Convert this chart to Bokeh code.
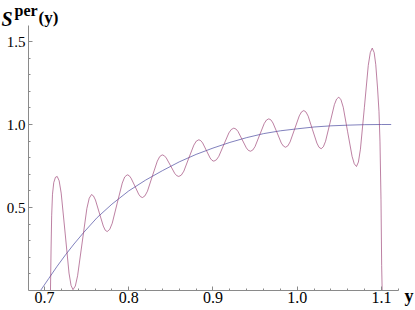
from bokeh.plotting import figure
from bokeh.models import FixedTicker, PrintfTickFormatter, Label, Range1d
from bokeh.embed import file_html
from bokeh.resources import INLINE

# ---- data ----
x_ticks = [0.7, 0.8, 0.9, 1.0, 1.1]
x_minor = [0.70, 0.72, 0.74, 0.76, 0.78, 0.80, 0.82, 0.84, 0.86, 0.88, 0.90,
           0.92, 0.94, 0.96, 0.98, 1.00, 1.02, 1.04, 1.06, 1.08, 1.10, 1.12]
y_ticks = [0.5, 1.0, 1.5]
y_minor = [0.1, 0.2, 0.3, 0.4, 0.5, 0.6, 0.7, 0.8, 0.9, 1.0, 1.1, 1.2, 1.3, 1.4, 1.5]

# smooth (blue) curve
blue_x = [0.6953, 0.7050, 0.7150, 0.7250, 0.7350, 0.7466, 0.7626, 0.7800, 0.8000,
          0.8200, 0.8400, 0.8600, 0.8800, 0.9000, 0.9200, 0.9400, 0.9600, 0.9800,
          1.0000, 1.0200, 1.0400, 1.0600, 1.0800, 1.1000, 1.1115]
blue_y = [0.000, 0.072, 0.146, 0.215, 0.280, 0.350, 0.440, 0.520, 0.600,
          0.665, 0.722, 0.775, 0.820, 0.858, 0.892, 0.921, 0.945, 0.962,
          0.974, 0.985, 0.992, 0.996, 0.999, 1.000, 1.000]

# oscillating (red) curve S^per(y)
red_x = [0.7071, 0.7078, 0.7085, 0.7095, 0.7110, 0.7130, 0.7151,
         0.7174, 0.7198, 0.7245, 0.7291, 0.7315, 0.7338,
         0.7366, 0.7393, 0.7448, 0.7503, 0.7531, 0.7558,
         0.7581, 0.7605, 0.7651, 0.7698, 0.7721, 0.7744,
         0.7774, 0.7804, 0.7863, 0.7923, 0.7952, 0.7982,
         0.8005, 0.8027, 0.8073, 0.8118, 0.8140, 0.8163,
         0.8192, 0.8222, 0.8280, 0.8339, 0.8368, 0.8397,
         0.8422, 0.8446, 0.8496, 0.8545, 0.8569, 0.8594,
         0.8624, 0.8654, 0.8713, 0.8773, 0.8802, 0.8832,
         0.8854, 0.8877, 0.8921, 0.8966, 0.8988, 0.9010,
         0.9040, 0.9069, 0.9129, 0.9188, 0.9217, 0.9247,
         0.9272, 0.9297, 0.9346, 0.9396, 0.9420, 0.9445,
         0.9472, 0.9499, 0.9554, 0.9608, 0.9635, 0.9662,
         0.9687, 0.9712, 0.9762, 0.9811, 0.9836, 0.9861,
         0.9888, 0.9915, 0.9970, 1.0024, 1.0051, 1.0078,
         1.0104, 1.0130, 1.0181, 1.0233, 1.0258, 1.0284,
         1.0310, 1.0336, 1.0389, 1.0441, 1.0467, 1.0493,
         1.0519, 1.0546, 1.0598, 1.0651, 1.0677, 1.0703,
         1.0726, 1.0750, 1.0797, 1.0843, 1.0867, 1.0890,
         1.0913, 1.0932, 1.0953, 1.0970, 1.0982, 1.0994, 1.1002, 1.1008]
red_y = [0.000, 0.250, 0.450, 0.580, 0.650, 0.682, 0.687,
         0.661, 0.587, 0.346, 0.105, 0.031, 0.005,
         0.027, 0.089, 0.292, 0.494, 0.556, 0.578,
         0.570, 0.545, 0.467, 0.388, 0.363, 0.355,
         0.368, 0.405, 0.526, 0.647, 0.684, 0.697,
         0.692, 0.677, 0.629, 0.580, 0.565, 0.560,
         0.570, 0.598, 0.689, 0.779, 0.807, 0.817,
         0.812, 0.798, 0.752, 0.706, 0.692, 0.687,
         0.695, 0.719, 0.798, 0.876, 0.900, 0.908,
         0.903, 0.889, 0.844, 0.798, 0.784, 0.779,
         0.787, 0.808, 0.879, 0.949, 0.970, 0.978,
         0.973, 0.958, 0.909, 0.859, 0.844, 0.839,
         0.846, 0.867, 0.937, 1.006, 1.027, 1.034,
         1.028, 1.009, 0.949, 0.888, 0.870, 0.863,
         0.871, 0.895, 0.974, 1.052, 1.076, 1.084,
         1.075, 1.050, 0.969, 0.888, 0.863, 0.854,
         0.866, 0.899, 1.010, 1.120, 1.153, 1.165,
         1.149, 1.104, 0.956, 0.808, 0.763, 0.747,
         0.774, 0.851, 1.104, 1.356, 1.433, 1.460,
         1.433, 1.360, 1.220, 1.080, 0.900, 0.550, 0.150, 0.000]

# visible ranges (whole canvas) and axis extents
XR0, XR1 = 0.64778, 1.14036
YR0, YR1 = -0.12048, 1.74699
X_AXIS_BOUNDS = (0.681, 1.1202)
Y_AXIS_BOUNDS = (0.0, 1.596)

p = figure(width=415, height=310, output_backend="svg", toolbar_location=None,
           x_range=Range1d(XR0, XR1), y_range=Range1d(YR0, YR1),
           min_border_left=0, min_border_right=0, min_border_top=0, min_border_bottom=0)
p.background_fill_color = "white"
p.border_fill_color = "white"
p.outline_line_color = None
p.grid.visible = False

p.line(blue_x, blue_y, line_color="#3d3d99", line_alpha=0.65, line_width=1,
       line_join="round")
p.line(red_x, red_y, line_color="#993d71", line_alpha=0.65, line_width=1,
       line_join="round")

axis_color = "#8a8a8a"
for ax in (p.xaxis[0], p.yaxis[0]):
    ax.axis_line_color = axis_color
    ax.major_tick_line_color = axis_color
    ax.minor_tick_line_color = axis_color
    ax.major_tick_in = 4
    ax.major_tick_out = 0
    ax.minor_tick_in = 2
    ax.minor_tick_out = 0
    ax.major_label_text_font = "Liberation Serif"
    ax.major_label_text_color = "black"
    ax.formatter = PrintfTickFormatter(format="%.1f")

p.xaxis[0].ticker = FixedTicker(ticks=x_ticks, minor_ticks=x_minor)
p.yaxis[0].ticker = FixedTicker(ticks=y_ticks, minor_ticks=y_minor)
p.xaxis[0].fixed_location = 0.0
p.yaxis[0].fixed_location = X_AXIS_BOUNDS[0]
p.xaxis[0].bounds = X_AXIS_BOUNDS
p.yaxis[0].bounds = Y_AXIS_BOUNDS
p.xaxis[0].major_label_text_font_size = "16px"
p.yaxis[0].major_label_text_font_size = "15px"
p.xaxis[0].major_label_standoff = 1
p.yaxis[0].major_label_standoff = 3

# axis labels, positioned in pixels from the top-left corner of the canvas
font = "Liberation Serif"
def label(text, px, py, size, style):
    p.add_layout(Label(x=XR0, y=YR1, x_offset=px, y_offset=-py, text=text,
                       text_font=font, text_font_style=style, text_font_size=size,
                       text_color="black", text_align="left",
                       text_baseline="alphabetic"))

label("S", 1, 18, "20px", "bold italic")
label("per", 14, 10, "16px", "bold")
label("(y)", 38, 17, "17px", "bold")
label("y", 404, 295, "18px", "bold")

open("out.html", "w").write(file_html(p, INLINE))
